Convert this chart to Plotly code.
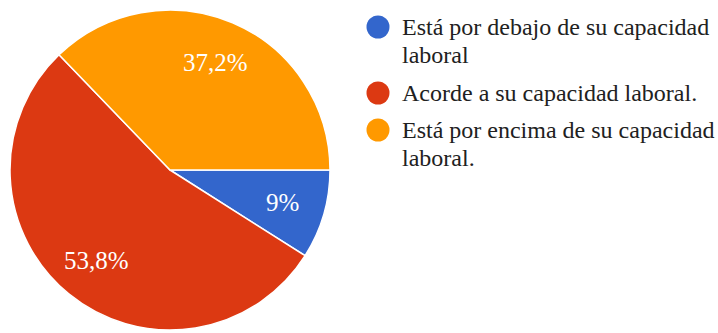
import math
import plotly.graph_objects as go

# Categories, shares (%) and slice colours
labels = [
    "Está por debajo de su capacidad<br>laboral",
    "Acorde a su capacidad laboral.",
    "Está por encima de su capacidad<br>laboral.",
]
values = [9, 53.8, 37.2]
colors = ["#3366cc", "#dc3912", "#ff9900"]

W, H = 718, 333
FONT = "Liberation Serif, Times New Roman, serif"

# Pie box (pixels): centre and radius
CX, CY, R = 170, 170, 160

fig = go.Figure(
    go.Pie(
        labels=[l.replace("<br>", " ") for l in labels],
        values=values,
        sort=False,
        direction="clockwise",
        rotation=90,
        marker=dict(colors=colors, line=dict(color="white", width=1.5)),
        textinfo="none",
        showlegend=False,
        hoverinfo="label+percent",
        domain=dict(x=[(CX - R) / W, (CX + R) / W],
                    y=[(H - CY - R) / H, (H - CY + R) / H]),
    )
)

annotations, shapes = [], []

# Percentage labels on each slice, placed along the slice bisector
total = sum(values)
start = 0.0  # degrees clockwise from 3 o'clock
for v in values:
    mid = math.radians(start + 360 * v / total / 2)
    start += 360 * v / total
    px = CX + 0.73 * R * math.cos(mid)
    py = CY + 0.73 * R * math.sin(mid)
    txt = f"{v:g}".replace(".", ",") + "%"
    annotations.append(dict(
        text=txt, xref="paper", yref="paper",
        x=px / W, y=1 - py / H, xanchor="center", yanchor="middle",
        showarrow=False, font=dict(family=FONT, size=25, color="white"),
    ))

# Legend drawn as circle swatches plus text lines
marker_y = [27, 93, 130]
line_gap = 28
swatch_x, swatch_r, text_x = 378, 11.5, 400
for lab, col, my in zip(labels, colors, marker_y):
    shapes.append(dict(
        type="circle", xref="paper", yref="paper",
        x0=(swatch_x - swatch_r) / W, x1=(swatch_x + swatch_r) / W,
        y0=1 - (my + swatch_r) / H, y1=1 - (my - swatch_r) / H,
        fillcolor=col, line=dict(width=0),
    ))
    for i, part in enumerate(lab.split("<br>")):
        annotations.append(dict(
            text=part, xref="paper", yref="paper",
            x=text_x / W, y=1 - (my + i * line_gap) / H,
            xanchor="left", yanchor="middle", showarrow=False,
            font=dict(family=FONT, size=24, color="#212121"),
        ))

fig.update_layout(
    width=W, height=H,
    margin=dict(l=0, r=0, t=0, b=0),
    paper_bgcolor="white",
    separators=",.",
    shapes=shapes,
    annotations=annotations,
)

fig.write_html("out.html")
